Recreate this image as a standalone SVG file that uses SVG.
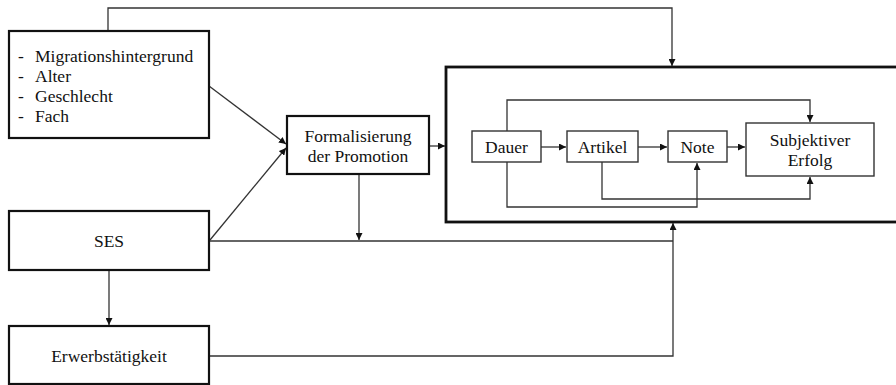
<svg xmlns="http://www.w3.org/2000/svg" width="896" height="385" viewBox="0 0 896 385">
<style>
text{font-family:"Liberation Serif","Times New Roman",serif;font-size:17.5px;fill:#111;}
.c{text-anchor:middle;}
.box{fill:#fff;stroke:#111;stroke-width:2.2;}
.outer{fill:#fff;stroke:#111;stroke-width:2.8;}
.inner{fill:#fff;stroke:#333;stroke-width:1.4;}
.ln{fill:none;stroke:#333;stroke-width:1.3;}
</style>
<defs>
<marker id="ah" viewBox="0 0 10 10" refX="10" refY="5" markerWidth="7" markerHeight="7" markerUnits="userSpaceOnUse" orient="auto">
<path d="M0,0 L10,5 L0,10 z" fill="#111"/>
</marker>
</defs>
<g id="outer-box"><rect class="outer" x="446" y="67" width="460" height="155"/></g>
<g id="connectors">
<polyline class="ln" points="108,31 108,8 672,8 672,66" marker-end="url(#ah)"/>
<line class="ln" x1="209" y1="86" x2="286" y2="144" marker-end="url(#ah)"/>
<line class="ln" x1="210" y1="240" x2="286" y2="148" marker-end="url(#ah)"/>
<line class="ln" x1="429" y1="146" x2="445" y2="146" marker-end="url(#ah)"/>
<line class="ln" x1="359" y1="174" x2="359" y2="240" marker-end="url(#ah)"/>
<polyline class="ln" points="209,241 673,241"/>
<polyline class="ln" points="209,356 673,356 673,223" marker-end="url(#ah)"/>
<line class="ln" x1="109" y1="270" x2="109" y2="325" marker-end="url(#ah)"/>
<line class="ln" x1="541" y1="147" x2="566" y2="147" marker-end="url(#ah)"/>
<line class="ln" x1="638" y1="147" x2="667" y2="147" marker-end="url(#ah)"/>
<line class="ln" x1="727" y1="147" x2="745" y2="147" marker-end="url(#ah)"/>
<polyline class="ln" points="507,131 507,100 810,100 810,122" marker-end="url(#ah)"/>
<polyline class="ln" points="507,162 507,207 697,207 697,163" marker-end="url(#ah)"/>
<polyline class="ln" points="602,162 602,199 810,199 810,177" marker-end="url(#ah)"/>
</g>
<g id="demographics">
<rect class="box" x="9" y="31" width="200" height="107"/>
<text x="18" y="62">-</text><text x="35" y="62">Migrationshintergrund</text>
<text x="18" y="82">-</text><text x="35" y="82">Alter</text>
<text x="18" y="102">-</text><text x="35" y="102">Geschlecht</text>
<text x="18" y="122">-</text><text x="35" y="122">Fach</text>
</g>
<g id="formalisierung">
<rect class="box" x="287" y="116" width="142" height="58"/>
<text class="c" x="358" y="142">Formalisierung</text>
<text class="c" x="358" y="162">der Promotion</text>
</g>
<g id="ses">
<rect class="box" x="9" y="211" width="200" height="59"/>
<text class="c" x="109" y="247">SES</text>
</g>
<g id="erwerb">
<rect class="box" x="9" y="326" width="200" height="58"/>
<text class="c" x="109" y="362">Erwerbstätigkeit</text>
</g>
<g id="dauer"><rect class="inner" x="472" y="131" width="69" height="31"/><text class="c" x="506.5" y="153">Dauer</text></g>
<g id="artikel"><rect class="inner" x="567" y="131" width="71" height="31"/><text class="c" x="602.5" y="153">Artikel</text></g>
<g id="note"><rect class="inner" x="668" y="131" width="59" height="31"/><text class="c" x="697.5" y="153">Note</text></g>
<g id="erfolg"><rect class="inner" x="746" y="123" width="128" height="53"/>
<text class="c" x="810" y="146">Subjektiver</text>
<text class="c" x="810" y="166">Erfolg</text></g>
</svg>
